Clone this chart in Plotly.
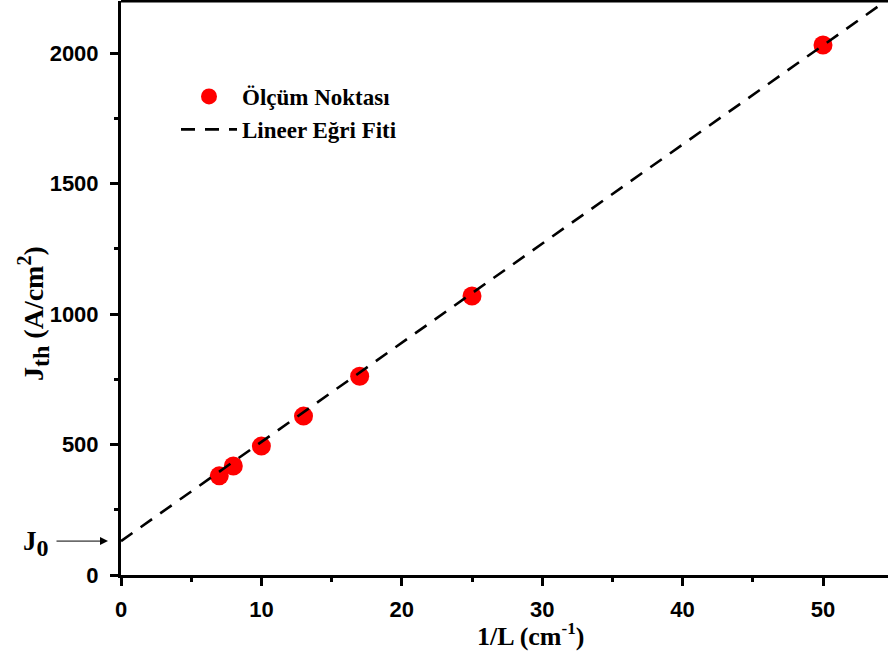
import plotly.graph_objects as go

# measured points
inv_L = [7, 8, 10, 13, 17, 25, 50]
J_th = [380, 418, 494, 609, 762, 1069, 2031]

# linear fit line (end points)
fit_x = [0, 55]
fit_y = [130, 2220]

x_ticks = [0, 10, 20, 30, 40, 50]
y_ticks = [0, 500, 1000, 1500, 2000]

serif = "Liberation Serif, Times New Roman, serif"
sans = "Liberation Sans, Arial, sans-serif"

fig = go.Figure()
fig.add_trace(go.Scatter(
    x=inv_L, y=J_th, mode="markers", name="Ölçüm Noktası",
    marker=dict(color="#ff0000", size=19, line=dict(width=0)),
))
fig.add_trace(go.Scatter(
    x=fit_x, y=fit_y, mode="lines", name="Lineer Eğri Fiti",
    line=dict(color="black", width=2.6, dash="14px,10px"),
))

axis_common = dict(
    showgrid=False, zeroline=False, showline=True, linecolor="black",
    linewidth=3, ticks="outside", ticklen=8, tickwidth=3, tickcolor="black",
    tickfont=dict(family=sans, size=22, color="black", weight="bold"),
)

fig.update_xaxes(range=[0, 54.63], tickvals=x_ticks, ticklabelstandoff=5,
                 minor=dict(ticks="outside", dtick=5, ticklen=4, tickwidth=3,
                            tickcolor="black"),
                 **axis_common)
fig.update_yaxes(range=[0, 2200], tickvals=y_ticks, ticklabelstandoff=7,
                 minor=dict(ticks="outside", dtick=250, ticklen=4, tickwidth=3,
                            tickcolor="black"),
                 **axis_common)

fig.add_shape(type="line", xref="paper", yref="paper", x0=0, x1=1, y0=1, y1=1,
              line=dict(color="black", width=3))

# axis titles
fig.add_annotation(text="1/L (cm<sup><span style='font-size:17px'>-1</span></sup>)",
                   xref="paper", yref="paper",
                   x=(530 - 121) / 767, y=-(635 - 575) / 574, showarrow=False,
                   xanchor="center", yanchor="middle",
                   font=dict(family=serif, size=26, color="black", weight="bold"))
fig.add_annotation(text="J<sub><span style='font-size:24px'>th</span></sub> (A/cm<sup><span style='font-size:20px'>2</span></sup>)",
                   xref="paper", yref="paper",
                   x=-(121 - 33) / 767, y=(575 - 314) / 574, showarrow=False,
                   textangle=-90, xanchor="center", yanchor="middle",
                   font=dict(family=serif, size=28, color="black", weight="bold"))

# J0 marker
fig.add_annotation(text="", xref="paper", yref="y", x=-(121 - 108) / 767, y=130,
                   ax=-53, ay=0, showarrow=True, arrowhead=2, arrowsize=1.6,
                   arrowwidth=1, arrowcolor="black")
fig.add_annotation(text="J<sub><span style='font-size:24px'>0</span></sub>", xref="paper", yref="y",
                   x=-(121 - 36) / 767, y=130, showarrow=False,
                   xanchor="center", yanchor="middle", yshift=-2,
                   font=dict(family=serif, size=27, color="black", weight="bold"))

fig.update_layout(
    width=888, height=659,
    margin=dict(l=121, r=0, t=1, b=84),
    plot_bgcolor="white", paper_bgcolor="white",
    showlegend=True,
    legend=dict(x=(176 - 121) / 767, y=(575 - 75) / 574, xanchor="left", yanchor="top",
                bgcolor="rgba(0,0,0,0)", itemwidth=56, tracegroupgap=0,
                font=dict(family=serif, size=23, color="black", weight="bold")),
)

fig.write_html("out.html")
